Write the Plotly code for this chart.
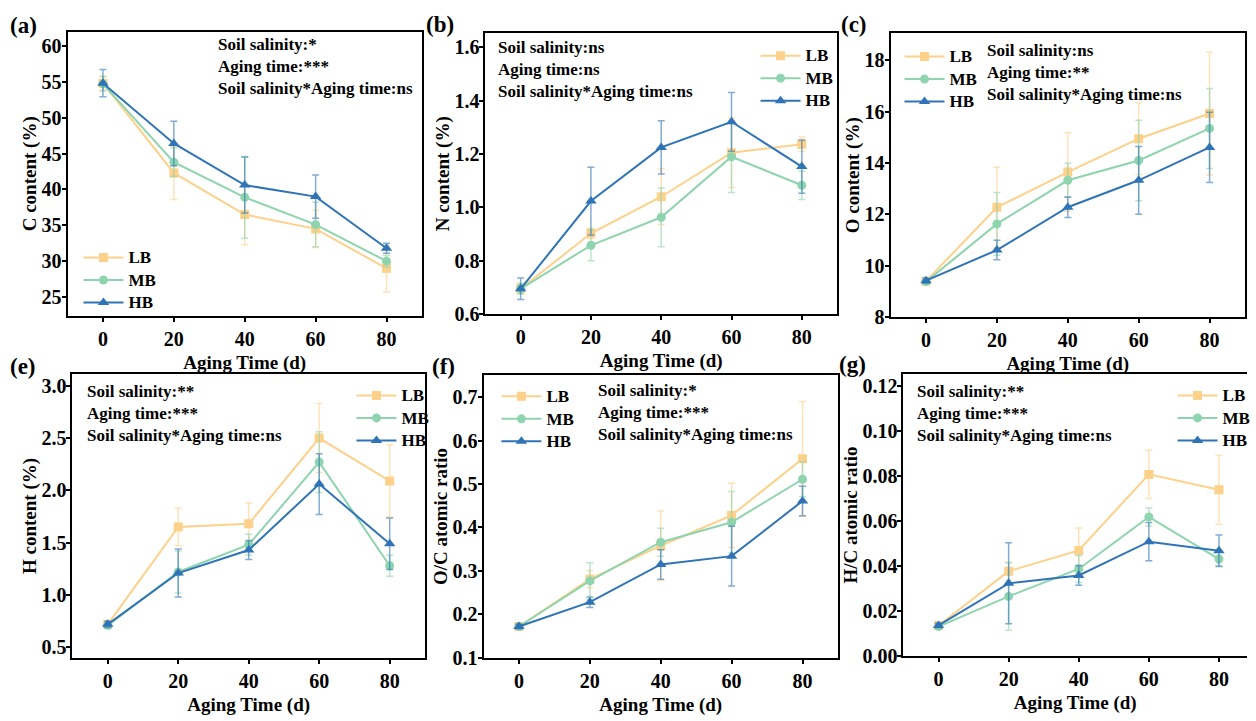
import plotly.graph_objects as go

W, H = 1256, 721

days = [0, 20, 40, 60, 80]
groups = ["LB", "MB", "HB"]

# C content (%)
c_lb = [54.8, 42.3, 36.5, 34.5, 29.0]
c_mb = [54.7, 43.8, 38.9, 35.1, 30.0]
c_hb = [54.8, 46.4, 40.6, 39.0, 31.8]
c_lb_sd = [1.0, 3.7, 4.2, 2.6, 3.3]
c_mb_sd = [1.0, 2.0, 5.7, 3.1, 0.8]
c_hb_sd = [1.9, 3.1, 3.9, 3.0, 0.7]

# N content (%)
n_lb = [0.695, 0.903, 1.040, 1.205, 1.237]
n_mb = [0.695, 0.858, 0.963, 1.190, 1.083]
n_hb = [0.695, 1.024, 1.225, 1.321, 1.153]
n_lb_sd = [0.02, 0.02, 0.105, 0.13, 0.027]
n_mb_sd = [0.02, 0.058, 0.11, 0.134, 0.053]
n_hb_sd = [0.04, 0.127, 0.10, 0.11, 0.10]

# O content (%)
o_lb = [9.40, 12.28, 13.65, 14.95, 15.93]
o_mb = [9.38, 11.63, 13.33, 14.10, 15.35]
o_hb = [9.42, 10.61, 12.28, 13.33, 14.61]
o_lb_sd = [0.1, 1.56, 1.53, 1.39, 2.39]
o_mb_sd = [0.1, 1.22, 0.66, 1.57, 1.56]
o_hb_sd = [0.1, 0.38, 0.40, 1.32, 1.37]

# H content (%)
h_lb = [0.72, 1.65, 1.68, 2.50, 2.09]
h_mb = [0.71, 1.22, 1.48, 2.27, 1.28]
h_hb = [0.72, 1.21, 1.43, 2.06, 1.49]
h_lb_sd = [0.03, 0.18, 0.20, 0.33, 0.345]
h_mb_sd = [0.03, 0.20, 0.10, 0.29, 0.10]
h_hb_sd = [0.03, 0.23, 0.09, 0.29, 0.245]

# O/C atomic ratio
oc_lb = [0.172, 0.281, 0.358, 0.428, 0.558]
oc_mb = [0.172, 0.277, 0.366, 0.412, 0.511]
oc_hb = [0.172, 0.228, 0.315, 0.334, 0.461]
oc_lb_sd = [0.005, 0.02, 0.08, 0.074, 0.132]
oc_mb_sd = [0.005, 0.042, 0.032, 0.071, 0.04]
oc_hb_sd = [0.005, 0.012, 0.034, 0.069, 0.034]

# H/C atomic ratio
hc_lb = [0.0135, 0.0376, 0.0468, 0.0806, 0.0738]
hc_mb = [0.0130, 0.0264, 0.0386, 0.0617, 0.0430]
hc_hb = [0.0135, 0.0322, 0.0357, 0.0507, 0.0467]
hc_lb_sd = [0.001, 0.004, 0.010, 0.0107, 0.0153]
hc_mb_sd = [0.001, 0.015, 0.006, 0.004, 0.003]
hc_hb_sd = [0.001, 0.018, 0.0044, 0.0085, 0.007]

panel_tags = ["(a)", "(b)", "(c)", "(e)", "(f)", "(g)"]
y_titles = ["C content (%)", "N content (%)", "O content (%)",
            "H content (%)", "O/C atomic ratio", "H/C atomic ratio"]
stats_text = [
    ["Soil salinity:*", "Aging time:***", "Soil salinity*Aging time:ns"],
    ["Soil salinity:ns", "Aging time:ns", "Soil salinity*Aging time:ns"],
    ["Soil salinity:ns", "Aging time:**", "Soil salinity*Aging time:ns"],
    ["Soil salinity:**", "Aging time:***", "Soil salinity*Aging time:ns"],
    ["Soil salinity:*", "Aging time:***", "Soil salinity*Aging time:ns"],
    ["Soil salinity:**", "Aging time:***", "Soil salinity*Aging time:ns"],
]
x_title = "Aging Time (d)"

series = [
    ([c_lb, c_mb, c_hb], [c_lb_sd, c_mb_sd, c_hb_sd]),
    ([n_lb, n_mb, n_hb], [n_lb_sd, n_mb_sd, n_hb_sd]),
    ([o_lb, o_mb, o_hb], [o_lb_sd, o_mb_sd, o_hb_sd]),
    ([h_lb, h_mb, h_hb], [h_lb_sd, h_mb_sd, h_hb_sd]),
    ([oc_lb, oc_mb, oc_hb], [oc_lb_sd, oc_mb_sd, oc_hb_sd]),
    ([hc_lb, hc_mb, hc_hb], [hc_lb_sd, hc_mb_sd, hc_hb_sd]),
]

# ---- styling ----
FONT = "Liberation Serif"
colors = {"LB": "#FDD18A", "MB": "#8ED4AE", "HB": "#2F74B6"}
err_colors = {"LB": "rgba(253,209,138,0.6)", "MB": "rgba(142,212,174,0.6)",
              "HB": "rgba(47,116,182,0.6)"}
symbols = {"LB": "square", "MB": "circle", "HB": "triangle-up"}
msize = {"LB": 9, "MB": 9, "HB": 10}


def fx(px):
    return px / W


def fy(py):
    return 1 - py / H


# plot-area boxes in pixels: left, right, top, bottom
boxes = [
    (68, 425, 32, 321),
    (489, 843, 34, 319),
    (897, 1254, 34, 322),
    (73, 428, 380, 668),
    (487, 844, 381, 668),
    (910, 1256, 380, 666),
]
y_ranges = [[22.35, 62.0], [0.6, 1.652], [8, 19.05],
            [0.40, 3.11], [0.1, 0.7505], [0.0, 0.1251]]
y_dticks = [5, 0.2, 2, 0.5, 0.1, 0.02]
y_formats = ["d", ".1f", "d", ".1f", ".1f", ".2f"]
x_ranges = [[-10, 90]] * 5 + [[-10, 88]]

# legend top-left (px) and stats text top-left (px)
legend_pos = [(79, 245), (761, 40), (906, 41), (354, 385), (500, 386), (1181, 385)]
stats_pos = [(218, 34), (500, 37), (992, 40), (86, 386), (600, 385), (922, 386)]
tag_pos = [(8, 26), (427, 25), (845, 25), (8, 372), (433, 372), (843, 370)]

fig = go.Figure()
layout = dict(
    width=W, height=H,
    margin=dict(l=0, r=0, t=0, b=0),
    paper_bgcolor="white", plot_bgcolor="white",
    font=dict(family=FONT, color="black", weight="bold"),
    annotations=[],
)

for i in range(6):
    k = "" if i == 0 else str(i + 1)
    xa, ya = "x" + k, "y" + k
    lg = "legend" + k
    means, sds = series[i]
    for g, m, s in zip(groups, means, sds):
        fig.add_trace(go.Scatter(
            x=days, y=m, name='<span style="font-size:17px">%s</span>' % g,
            mode="lines+markers",
            xaxis=xa, yaxis=ya, legend=lg,
            line=dict(color=colors[g], width=2),
            marker=dict(symbol=symbols[g], size=msize[g], color=colors[g],
                        line=dict(width=0)),
            error_y=dict(type="data", array=s, visible=True,
                         color=err_colors[g], thickness=1.5, width=3.5),
        ))
    l, r, t, b = boxes[i]
    layout["xaxis" + k] = dict(
        domain=[fx(l), min(fx(r), 1.0)], anchor=ya, range=x_ranges[i],
        tickmode="linear", tick0=0, dtick=20,
        showline=True, linecolor="black", linewidth=2, mirror=True,
        ticks="outside", ticklen=4, tickwidth=2, tickcolor="black",
        showgrid=False, zeroline=False,
        tickfont=dict(family=FONT, size=20, weight="bold"),
        title=dict(text=x_title, standoff=7,
                   font=dict(family=FONT, size=19, weight="bold")),
    )
    layout["yaxis" + k] = dict(
        domain=[fy(b), fy(t)], anchor=xa, range=y_ranges[i],
        tickmode="linear", tick0=0, dtick=y_dticks[i], tickformat=y_formats[i],
        showline=True, linecolor="black", linewidth=2,
        mirror=(i != 5),
        ticks="outside", ticklen=4, tickwidth=2, tickcolor="black",
        ticklabelstandoff=-4,
        showgrid=False, zeroline=False,
        tickfont=dict(family=FONT, size=20, weight="bold"),
        title=dict(text=y_titles[i], standoff=0,
                   font=dict(family=FONT, size=19, weight="bold")),
    )
    lx, ly = legend_pos[i]
    layout[lg] = dict(
        x=fx(lx), y=fy(ly), xanchor="left", yanchor="top",
        bgcolor="rgba(0,0,0,0)", borderwidth=0,
        font=dict(family=FONT, size=15, weight="bold", color="black"),
        tracegroupgap=0, itemwidth=40,
    )
    sx, sy = stats_pos[i]
    layout["annotations"].append(dict(
        xref="paper", yref="paper", x=fx(sx), y=fy(sy),
        xanchor="left", yanchor="top", align="left", showarrow=False,
        text="<br>".join(stats_text[i]),
        font=dict(family=FONT, size=17, weight="bold", color="black"),
    ))
    tx, ty = tag_pos[i]
    layout["annotations"].append(dict(
        xref="paper", yref="paper", x=fx(tx), y=fy(ty),
        xanchor="left", yanchor="middle", showarrow=False,
        text=panel_tags[i],
        font=dict(family=FONT, size=23, weight="bold", color="black"),
    ))

fig.update_layout(**layout)
fig.write_html("out.html")
